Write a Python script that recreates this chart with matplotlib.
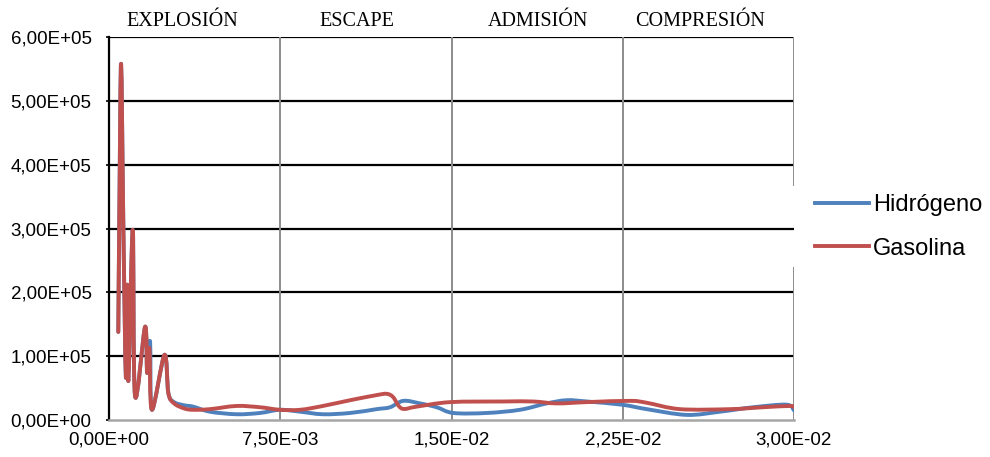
import matplotlib
matplotlib.use("Agg")
import matplotlib.pyplot as plt
import numpy as np
from matplotlib.path import Path
from matplotlib.patches import PathPatch
from matplotlib.lines import Line2D

# Time axis (s) and pressure-like values for each fuel
t_hidrogeno = [4.07e-4, 4.6e-4, 5.3e-4, 6.3e-4, 7.4e-4, 8.0e-4, 8.5e-4, 1.04e-3, 1.14e-3,
               1.58e-3, 1.67e-3, 1.80e-3, 1.88e-3, 2.43e-3, 2.60e-3, 2.85e-3, 3.3e-3,
               3.68e-3, 4.42e-3, 5.59e-3, 6.61e-3, 7.49e-3, 8.37e-3, 9.37e-3, 1.056e-2,
               1.172e-2, 1.231e-2, 1.289e-2, 1.362e-2, 1.435e-2, 1.508e-2, 1.654e-2,
               1.80e-2, 1.917e-2, 2.005e-2, 2.092e-2, 2.246e-2, 2.355e-2, 2.53e-2,
               2.676e-2, 2.822e-2, 2.968e-2, 3.0e-2]
hidrogeno = [1.38e5, 3.5e5, 5.58e5, 3.0e5, 0.66e5, 2.12e5, 0.62e5, 2.98e5, 0.38e5,
             1.46e5, 0.74e5, 1.23e5, 0.16e5, 1.02e5, 0.42e5, 0.28e5, 0.23e5,
             0.21e5, 0.13e5, 0.09e5, 0.11e5, 0.16e5, 0.13e5, 0.09e5, 0.11e5,
             0.17e5, 0.20e5, 0.30e5, 0.26e5, 0.20e5, 0.11e5, 0.11e5,
             0.16e5, 0.26e5, 0.31e5, 0.29e5, 0.24e5, 0.17e5, 0.08e5,
             0.13e5, 0.20e5, 0.24e5, 0.15e5]

t_gasolina = [4.07e-4, 4.6e-4, 5.3e-4, 6.3e-4, 7.4e-4, 8.0e-4, 8.5e-4, 1.04e-3, 1.14e-3,
              1.58e-3, 1.67e-3, 1.77e-3, 1.88e-3, 2.43e-3, 2.60e-3, 2.85e-3, 3.3e-3,
              3.68e-3, 4.42e-3, 5.59e-3, 6.61e-3, 7.49e-3, 8.37e-3, 9.37e-3, 1.056e-2,
              1.172e-2, 1.216e-2, 1.244e-2, 1.282e-2, 1.348e-2, 1.494e-2, 1.726e-2,
              1.857e-2, 1.961e-2, 2.092e-2, 2.282e-2, 2.355e-2, 2.501e-2, 2.72e-2,
              2.865e-2, 2.983e-2, 3.0e-2]
gasolina = [1.38e5, 3.5e5, 5.58e5, 3.0e5, 0.66e5, 2.12e5, 0.62e5, 2.98e5, 0.38e5,
            1.46e5, 0.74e5, 1.12e5, 0.16e5, 1.02e5, 0.42e5, 0.26e5, 0.18e5,
            0.16e5, 0.17e5, 0.22e5, 0.20e5, 0.16e5, 0.16e5, 0.22e5, 0.31e5,
            0.39e5, 0.41e5, 0.36e5, 0.18e5, 0.21e5, 0.28e5, 0.29e5,
            0.29e5, 0.26e5, 0.28e5, 0.30e5, 0.27e5, 0.17e5, 0.17e5,
            0.20e5, 0.22e5, 0.20e5]

# Axis ticks and labels
x_ticks = [0.0, 7.5e-3, 1.5e-2, 2.25e-2, 3.0e-2]
x_tick_labels = ["0,00E+00", "7,50E-03", "1,50E-02", "2,25E-02", "3,00E-02"]
y_ticks = [0, 1e5, 2e5, 3e5, 4e5, 5e5, 6e5]
y_tick_labels = ["0,00E+00", "1,00E+05", "2,00E+05", "3,00E+05",
                 "4,00E+05", "5,00E+05", "6,00E+05"]

# Engine stroke names above the plot
fases = ["EXPLOSIÓN", "ESCAPE", "ADMISIÓN", "COMPRESIÓN"]
fases_x = [3.2e-3, 1.085e-2, 1.88e-2, 2.59e-2]

BLUE = "#4F81BD"
RED = "#C0504D"
LW = 2.8


def smooth_series_path(x, y):
    """Smoothed (Catmull-Rom style Bezier) path through every data point."""
    pts = np.column_stack([x, y]).astype(float)
    n = len(pts)
    verts = [pts[0]]
    codes = [Path.MOVETO]
    for i in range(n - 1):
        p0 = pts[i - 1] if i > 0 else pts[i]
        p1 = pts[i]
        p2 = pts[i + 1]
        p3 = pts[i + 2] if i + 2 < n else pts[i + 1]
        c1 = p1 + (p2 - p0) / 6.0
        c2 = p2 - (p3 - p1) / 6.0
        verts += [c1, c2, p2]
        codes += [Path.CURVE4] * 3
    return Path(np.array(verts), codes)


fig = plt.figure(figsize=(9.9, 4.57), dpi=100)
ax = fig.add_axes([109 / 990, 1 - 420 / 457, 685 / 990, 383 / 457])

for xs, ys, color, z in [(t_hidrogeno, hidrogeno, BLUE, 3),
                         (t_gasolina, gasolina, RED, 4)]:
    patch = PathPatch(smooth_series_path(xs, ys), facecolor="none",
                      edgecolor=color, lw=LW, joinstyle="round",
                      capstyle="round", transform=ax.transData, zorder=z)
    ax.add_patch(patch)

ax.set_xlim(0, 3.0e-2)
ax.set_ylim(0, 6e5)

# Horizontal gridlines (black)
for yv in y_ticks[1:]:
    ax.axhline(yv, color="black", lw=1.6, zorder=1)

# Vertical gridlines (grey); the right one is interrupted by the legend box
for xv in x_ticks[1:-1]:
    ax.axvline(xv, color="#8c8c8c", lw=1.4, zorder=1)
ax.axvline(x_ticks[-1], ymin=0, ymax=0.397, color="#8c8c8c", lw=1.4, zorder=1)
ax.axvline(x_ticks[-1], ymin=0.614, ymax=1, color="#8c8c8c", lw=1.4, zorder=1)

for side in ["top", "right"]:
    ax.spines[side].set_visible(False)
ax.spines["left"].set_color("black")
ax.spines["left"].set_linewidth(1.6)
ax.spines["bottom"].set_color("#a6a6a6")
ax.spines["bottom"].set_linewidth(1.8)

ax.set_xticks(x_ticks)
ax.set_xticklabels(x_tick_labels, fontfamily="Liberation Sans", fontsize=13.5)
ax.set_yticks(y_ticks)
ax.set_yticklabels(y_tick_labels, fontfamily="Liberation Sans", fontsize=13.5)
ax.tick_params(axis="x", length=0, pad=8)
ax.tick_params(axis="y", length=2.5, width=1.2, pad=10, direction="out")

trans = ax.get_xaxis_transform()
for name, xpos in zip(fases, fases_x):
    ax.text(xpos, 1.029, name, transform=trans, ha="center", va="baseline",
            fontfamily="Liberation Serif", fontsize=14.5, clip_on=False)

handles = [Line2D([], [], color=BLUE, lw=LW), Line2D([], [], color=RED, lw=LW)]
fig.legend(handles, ["Hidrógeno", "Gasolina"], loc="center left",
           bbox_to_anchor=(808 / 990, 1 - 227 / 457),
           frameon=False, prop={"family": "Liberation Sans", "size": 17},
           handlelength=2.3, handletextpad=0.15, labelspacing=0.9,
           borderaxespad=0, borderpad=0.3)

fig.savefig("out.png", dpi=100)
